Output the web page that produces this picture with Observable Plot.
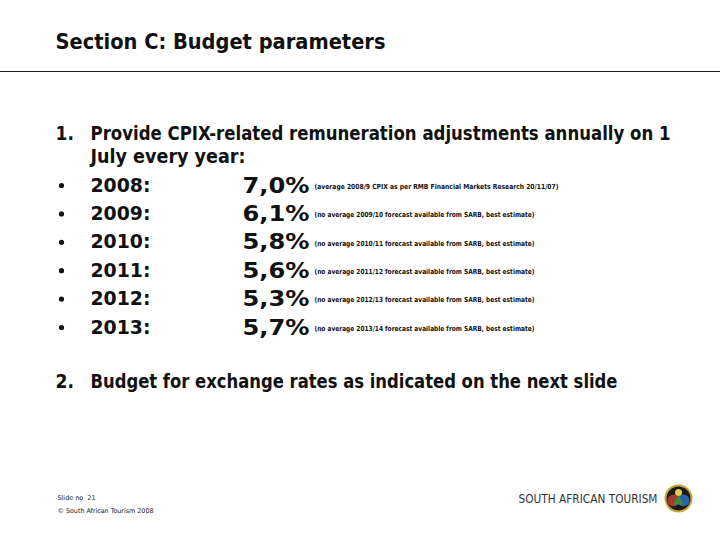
<!DOCTYPE html>
<html><head><meta charset="utf-8">
<script src="https://cdn.jsdelivr.net/npm/d3@7"></script>
<script src="https://cdn.jsdelivr.net/npm/@observablehq/plot@0.6"></script>
<style>body{margin:0;background:#fff}</style>
</head><body><div id="chart"></div>
<script>
// ---- data ----
const title = "Section C: Budget parameters";
const itemNumbers = ["1.", "2."];
const item1Lines = ["Provide CPIX-related remuneration adjustments annually on 1", "July every year:"];
const item2Text = "Budget for exchange rates as indicated on the next slide";
const years = ["2008", "2009", "2010", "2011", "2012", "2013"];
const cpix = [7.0, 6.1, 5.8, 5.6, 5.3, 5.7];
const notes = [
  "(average 2008/9 CPIX as per RMB Financial Markets Research 20/11/07)",
  "(no average 2009/10 forecast available from SARB, best estimate)",
  "(no average 2010/11 forecast available from SARB, best estimate)",
  "(no average 2011/12 forecast available from SARB, best estimate)",
  "(no average 2012/13 forecast available from SARB, best estimate)",
  "(no average 2013/14 forecast available from SARB, best estimate)"
];
const footerLines = ["Slide no  21", "© South African Tourism 2008"];
const brand = "SOUTH AFRICAN TOURISM";

// ---- layout (page units) ----
const W = 720, H = 540;
const L = {
  left: 55, indent: 90, bulletX: 61, pctX: 242, noteX: 314,
  titleY: 41, ruleY: 71, line1Y: 133, line2Y: 156,
  rowY0: 185, rowStep: 28.4, item2Y: 381,
  footY0: 497, footStep: 13, brandX: 518, brandY: 499, logoX: 678, logoY: 498
};
const fmtPct = v => v.toFixed(1).replace(".", ",") + "%";

const rows = years.map((yr, i) => ({
  year: yr + ":", pct: fmtPct(cpix[i]), note: notes[i], y: L.rowY0 + i * L.rowStep
}));
const bigLines = [
  {x: L.left, y: L.line1Y, t: itemNumbers[0]},
  {x: L.indent, y: L.line1Y, t: item1Lines[0]},
  {x: L.indent, y: L.line2Y, t: item1Lines[1]},
  {x: L.left, y: L.item2Y, t: itemNumbers[1]},
  {x: L.indent, y: L.item2Y, t: item2Text}
];
const foot = footerLines.map((t, i) => ({t, y: L.footY0 + i * L.footStep}));

const font = "'DejaVu Sans Condensed', 'DejaVu Sans', sans-serif";
const plot = Plot.plot({
  width: W, height: H, margin: 0,
  x: {domain: [0, W], range: [0, W], axis: null},
  y: {domain: [0, H], range: [0, H], axis: null},
  style: {fontFamily: font, background: "#fff"},
  marks: [
    Plot.text([title], {x: L.left, y: L.titleY, text: d => d, textAnchor: "start", fontSize: 22, fontWeight: "bold", fill: "#111"}),
    Plot.ruleY([L.ruleY], {x1: 0, x2: W, stroke: "#222", strokeWidth: 1.2}),
    Plot.text(bigLines, {x: "x", y: "y", text: "t", textAnchor: "start", fontSize: 19, fontWeight: "bold", fill: "#111"}),
    Plot.dot(rows, {x: L.bulletX, y: "y", r: 2.6, fill: "#111", stroke: null}),
    Plot.text(rows, {x: L.indent, y: "y", text: "year", textAnchor: "start", fontSize: 19, fontWeight: "bold", fill: "#111"}),
    Plot.text(rows, {x: L.pctX, y: "y", text: "pct", textAnchor: "start", fontSize: 22, fontWeight: "bold", fill: "#111"}),
    Plot.text(rows, {x: L.noteX, y: "y", dy: 1, text: "note", textAnchor: "start", fontSize: 7, fontWeight: "bold", fill: "#111"}),
    Plot.text(foot, {x: 57, y: "y", text: "t", textAnchor: "start", fontSize: 6.5, fill: "#222"}),
    Plot.text([brand], {x: L.brandX, y: L.brandY, text: d => d, textAnchor: "start", fontSize: 12, fill: "#333", fontFamily: "'DejaVu Sans', sans-serif"}),
    // logo
    Plot.dot([0], {x: L.logoX, y: L.logoY, r: 14, fill: "#c9a43a", stroke: null}),
    Plot.dot([0], {x: L.logoX, y: L.logoY, r: 12, fill: "#1a1a1a", stroke: null}),
    Plot.dot([0], {x: L.logoX - 5, y: L.logoY + 2, r: 6, fill: "#a63a2c", stroke: null}),
    Plot.dot([0], {x: L.logoX + 5, y: L.logoY + 2, r: 6, fill: "#2a62a8", stroke: null}),
    Plot.dot([0], {x: L.logoX, y: L.logoY + 3, r: 4, symbol: "triangle", fill: "#3d8b3d", stroke: null}),
    Plot.dot([0], {x: L.logoX, y: L.logoY - 6, r: 3.5, fill: "#e8c84a", stroke: null})
  ]
});
document.getElementById("chart").appendChild(plot);

// fit text widths to the slide
const targets = new Map([
  [title, 330], [item1Lines[0], 580], [item1Lines[1], 155], [item2Text, 527],
  [notes[0], 244], [brand, 139], [footerLines[0], 38], [footerLines[1], 96]
]);
notes.slice(1).forEach(n => targets.set(n, 220));
rows.forEach(r => { targets.set(r.year, 60); targets.set(r.pct, 67); });
d3.select(plot).selectAll("text").each(function() {
  const w = targets.get(this.textContent);
  if (w) { this.setAttribute("textLength", w); this.setAttribute("lengthAdjust", "spacingAndGlyphs"); }
});
</script></body></html>
